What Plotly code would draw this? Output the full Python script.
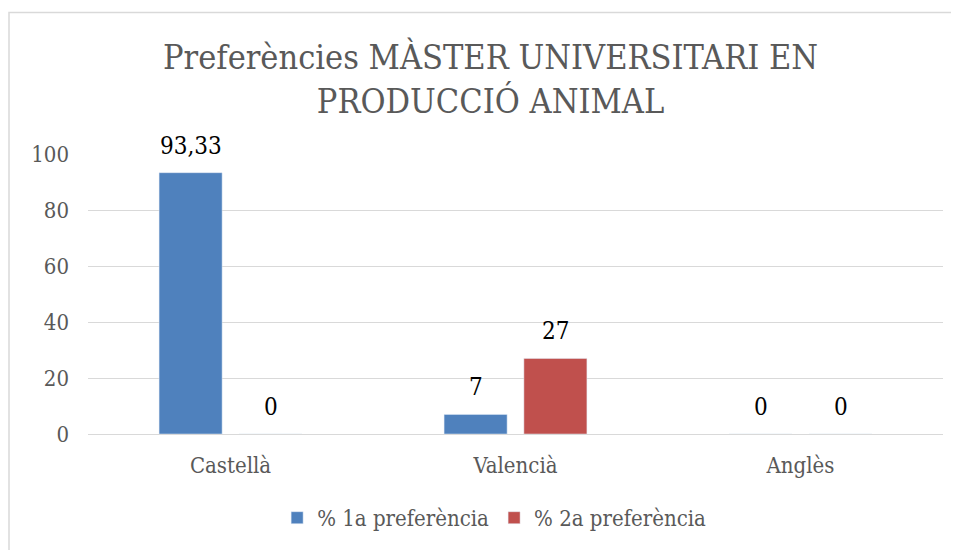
import plotly.graph_objects as go

categories = ["Castellà", "Valencià", "Anglès"]
first_pref = [93.33, 7, 0]
second_pref = [0, 27, 0]
series_names = ["% 1a preferència", "% 2a preferència"]
y_ticks = [0, 20, 40, 60, 80, 100]

FONT = "DejaVu Serif Condensed"
GREY = "#595959"
COLOURS = ["#4F81BD", "#C0504D"]

fig = go.Figure()

for name, values, colour in zip(series_names, [first_pref, second_pref], COLOURS):
    fig.add_trace(go.Bar(
        x=categories,
        y=values,
        name=name,
        marker_color=colour,
    ))


def fmt(v):
    return f"{v:g}".replace(".", ",")


# value labels sit a bit higher above the bars than plotly's own bar text
labels = []
for shift, values in zip([-40, 40], [first_pref, second_pref]):
    for cat, v in zip(categories, values):
        labels.append(dict(
            x=cat, y=v, xref="x", yref="y", text=fmt(v),
            showarrow=False, xshift=shift, yshift=27,
            xanchor="center", yanchor="middle",
            font=dict(family=FONT, size=24, color="#000000")
        ))

labels.append(dict(
    text="Preferències MÀSTER UNIVERSITARI EN<br>PRODUCCIÓ ANIMAL",
    xref="paper", yref="paper", x=0.471, y=1.269,
    xanchor="center", yanchor="middle", showarrow=False,
    font=dict(family=FONT, size=34, color=GREY)
))

# page body has an 8px margin, so the figure is a little smaller than the window
fig.update_layout(
    font=dict(family=FONT, size=22, color=GREY),
    barmode="group",
    bargap=0.44,
    bargroupgap=0.21,
    width=951,
    height=542,
    margin=dict(l=80, r=16, t=146, b=115),
    plot_bgcolor="white",
    paper_bgcolor="white",
    showlegend=True,
    legend=dict(
        orientation="h", x=0.475, xanchor="center", y=-0.295, yanchor="middle",
        font=dict(size=22, color=GREY), itemwidth=30
    ),
    yaxis=dict(
        range=[0, 100], tickvals=y_ticks, showgrid=True, gridcolor="#D9D9D9",
        gridwidth=1, zeroline=False, ticks="", tickfont=dict(size=22, color=GREY),
        ticklabelstandoff=18
    ),
    xaxis=dict(
        showline=True, linecolor="#D9D9D9", ticks="",
        tickfont=dict(size=22, color=GREY), ticklabelstandoff=12
    ),
    annotations=labels,
    shapes=[dict(
        type="rect", xref="paper", yref="paper",
        x0=-0.0924, x1=1.03, y0=-0.47, y1=1.505,
        line=dict(color="#D9D9D9", width=1.5), fillcolor="rgba(0,0,0,0)"
    )]
)

fig.write_html("out.html")
